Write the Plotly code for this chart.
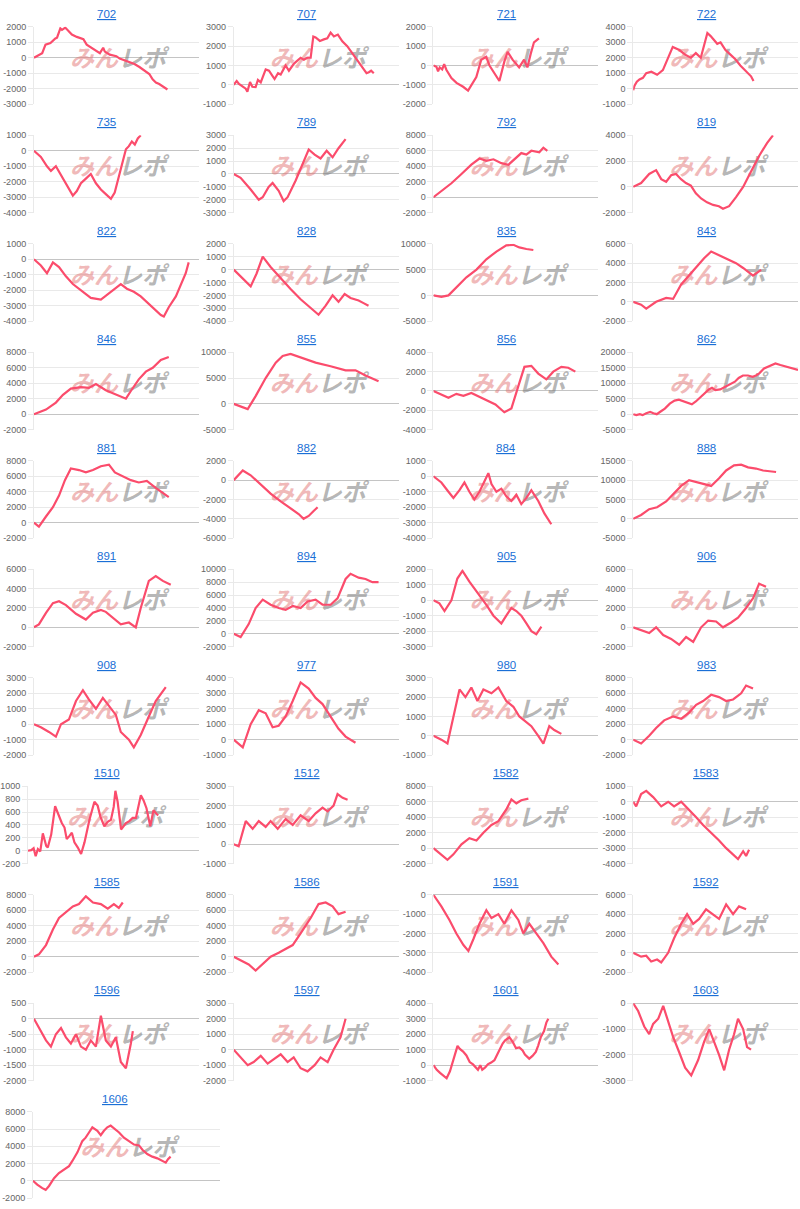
import plotly.graph_objects as go

titles = ["702", "707", "721", "722", "735", "789", "792", "819", "822", "828",
          "835", "843", "846", "855", "856", "862", "881", "882", "884", "888",
          "891", "894", "905", "906", "908", "977", "980", "983", "1510", "1512",
          "1582", "1583", "1585", "1586", "1591", "1592", "1596", "1597", "1601",
          "1603", "1606"]

# y axis tick range per chart: top tick, bottom tick, step
axis_top = [2000, 3000, 2000, 4000, 1000, 3000, 8000, 4000, 1000, 2000,
            10000, 6000, 8000, 10000, 4000, 20000, 8000, 2000, 1000, 15000,
            6000, 10000, 2000, 6000, 3000, 4000, 3000, 8000, 1000, 3000,
            8000, 1000, 8000, 8000, 0, 6000, 500, 3000, 4000, 0, 8000]
axis_bottom = [-3000, -1000, -2000, -1000, -4000, -3000, -2000, -2000, -4000, -4000,
               -5000, -2000, -2000, -5000, -4000, -5000, -2000, -6000, -4000, -5000,
               -2000, -2000, -3000, -2000, -2000, -1000, -1000, -2000, -200, -1000,
               -2000, -4000, -2000, -2000, -4000, -2000, -2000, -2000, -1000, -3000, -2000]
axis_step = [1000, 1000, 1000, 1000, 1000, 1000, 2000, 2000, 1000, 1000,
             5000, 2000, 2000, 5000, 2000, 5000, 2000, 2000, 1000, 5000,
             2000, 2000, 1000, 2000, 1000, 1000, 1000, 2000, 200, 1000,
             2000, 1000, 2000, 2000, 1000, 2000, 500, 1000, 1000, 1000, 2000]

# each series: (progress %, coin difference)
s702 = [(0, 0), (5, 300), (7, 850), (10, 950), (13, 1250), (14, 1300), (16, 1900), (17, 1800),
        (19, 1950), (21, 1700), (23, 1500), (26, 1350), (30, 1200), (32, 850), (34, 700), (36, 600),
        (38, 400), (40, 300), (42, 650), (43, 400), (46, 200), (50, 100), (52, -50), (56, -200),
        (59, -300), (61, -400), (64, -600), (67, -800), (70, -1050), (72, -1400), (74, -1600),
        (76, -1700), (78, -1850), (81, -2050)]
s707 = [(0, 0), (1.8, 200), (3.2, 50), (5.3, -100), (7.3, -200), (8.3, -350), (9.9, 150), (11.3, -100),
        (13.3, -120), (14.7, 250), (16.4, 130), (19.4, 800), (21.4, 730), (23.4, 480), (24.8, 300),
        (26.9, 600), (28.5, 530), (31.5, 1000), (33.5, 730), (36.6, 1100), (38.6, 1250), (40.6, 1400),
        (42.6, 1300), (44.6, 1400), (46.7, 1400), (48.3, 2500), (49.7, 2450), (52.3, 2270),
        (54.7, 2350), (56.8, 2400), (58.8, 2700), (60.8, 2500), (63.2, 2600), (65.9, 2250),
        (68.9, 2000), (71.9, 1650), (74.9, 1250), (78, 900), (80.6, 600), (82, 650), (83.4, 730), (85, 600)]
s721 = [(0, 0), (1.8, -70), (2.8, -300), (3.8, -100), (5.3, -200), (6.5, 70), (7.9, -230), (9.3, -400),
        (10.9, -650), (14, -900), (18, -1100), (21, -1300), (23, -1000), (26, -600), (29, 300),
        (32, 450), (34, 0), (37, -400), (40, -800), (43, 200), (45, 700), (48, 300), (52, -100),
        (55, 300), (57, -100), (59, 600), (61, 1200), (64, 1400)]
s722 = [(0, -100), (0.8, 200), (2.2, 450), (3.8, 600), (5.9, 700), (7.9, 1000), (11, 1100), (14.5, 900),
        (18, 1200), (24, 2700), (28, 2500), (31.5, 2200), (35, 2000), (38, 2300), (41, 2000),
        (45, 3600), (47, 3400), (51, 2900), (53, 3000), (56, 2500), (59, 2200), (62, 1900),
        (65, 1500), (68, 1200), (71.5, 800), (73, 500)]
s735 = [(0, 0), (4.2, -400), (7.9, -1000), (10.3, -1300), (13.3, -1000), (16.4, -1600), (20, -2300),
        (23.6, -2900), (26, -2600), (28.5, -2100), (31.5, -1800), (34.5, -1500), (37.6, -2100),
        (40.6, -2500), (43.6, -2800), (46.7, -3100), (49, -2700), (51.5, -1600), (54, -500),
        (55.8, 100), (57.6, 300), (59.4, 600), (61.2, 400), (63, 800), (64.8, 1000)]
s789 = [(0, 0), (4.2, -300), (10.3, -1200), (15.2, -2000), (17.6, -1800), (21.2, -1000),
        (23.6, -700), (27.3, -1300), (30.3, -2100), (32.7, -1800), (37.6, -500), (41.8, 700),
        (45.5, 1900), (49.1, 1500), (52.7, 1200), (56.4, 1800), (60, 1300), (63.6, 2000),
        (67.9, 2700)]
s792 = [(0, 0), (4.8, 800), (10.9, 1800), (17, 3000), (23, 4200), (27.9, 5000), (32.1, 4700),
        (36.4, 4900), (41.2, 4400), (45.5, 4200), (48.5, 4800), (53.3, 5700), (56.4, 5500),
        (59.4, 6000), (64.2, 5800), (66.7, 6400), (69.1, 6000)]
s819 = [(0, 0), (4.8, 300), (9.7, 1000), (13.9, 1300), (17, 600), (20, 400), (23, 900), (26, 1000),
        (29, 600), (32, 300), (35, 100), (38, -500), (41.2, -900), (44.8, -1200), (48.5, -1400),
        (52, -1500), (54.5, -1700), (58.2, -1500), (62.4, -800), (66.7, 0), (71.5, 1200),
        (76.4, 2400), (81.2, 3400), (84.8, 4000)]
s822 = [(0, 0), (4.2, -400), (7.9, -900), (11.5, -200), (15.2, -500), (19.4, -1100), (23.6, -1600),
        (28.5, -2000), (34.5, -2500), (40.6, -2600), (45.5, -2200), (49.7, -1800), (52.7, -1600),
        (56.4, -1900), (60.6, -2100), (64.8, -2400), (69.7, -2900), (73.9, -3300), (77, -3600),
        (78.8, -3700), (81.8, -3100), (86.1, -2400), (89.1, -1700), (92.1, -900), (93.9, -200)]
s828 = [(0, 0), (4.2, -500), (10.3, -1300), (13.9, -300), (17.6, 1000), (22.4, 200), (28.5, -700),
        (34.5, -1500), (40.6, -2300), (46.7, -3000), (51.5, -3500), (55.8, -2800), (60, -2000),
        (63.6, -2500), (67.3, -1900), (70.9, -2200), (75.8, -2400), (78.8, -2600), (81.8, -2800)]
s835 = [(0, 0), (4.8, -300), (9.1, 0), (13.9, 1500), (20, 3500), (26.1, 5000), (32.1, 7000),
        (38.2, 8500), (44.2, 9700), (48.5, 9800), (52.1, 9300), (56.4, 9000), (60.6, 8800)]
s843 = [(0, 0), (4.8, -300), (7.9, -700), (13.9, 0), (20, 400), (24.2, 300), (29.1, 1800), (35.2, 3000),
        (39.4, 3800), (43, 4500), (47.3, 5200), (52.1, 4800), (56.4, 4500), (62.4, 4000),
        (66.7, 3500), (70.3, 3000), (72.7, 2700), (77.6, 3300)]
s846 = [(0, 0), (7.3, 600), (13.3, 1500), (17.6, 2500), (22.4, 3300), (28.5, 3500), (33.3, 3400),
        (37.6, 3900), (43.6, 3100), (49.7, 2500), (55.8, 2000), (58.8, 3000), (63.6, 4500),
        (67.9, 5500), (72.1, 6000), (77, 7000), (81.8, 7400)]
s855 = [(0, 0), (4.2, -500), (8.5, -1000), (13.3, 1500), (19.4, 5000), (25.5, 8000), (29.7, 9300),
        (34.5, 9700), (40.6, 9000), (49.7, 8000), (58.8, 7300), (67.9, 6500), (73.9, 6500),
        (80, 5500), (87.9, 4400)]
s856 = [(0, 0), (4.8, -400), (9.1, -700), (13.9, -300), (18.2, -500), (23, -200), (27.9, -600),
        (32.7, -1000), (37.6, -1400), (43, -2200), (47.3, -1800), (51.5, 500), (55.2, 2500),
        (59.4, 2600), (63.6, 1800), (68.5, 1200), (72.7, 2000), (77.6, 2500), (81.8, 2400), (86.1, 2000)]
s862 = [(0, 0), (1.9, -300), (4, 0), (5.7, -300), (7.9, 300), (10.3, 700), (12.3, 300), (14.3, 0),
        (16.2, 700), (19.2, 1800), (22.2, 3400), (25.1, 4400), (27.7, 4700), (30, 4200), (33, 3600),
        (35.6, 3200), (38, 4100), (40.9, 5500), (43.9, 6800), (45.9, 8000), (47.8, 8500),
        (49.8, 7800), (52.8, 8000), (55.7, 8900), (58.7, 9600), (61.7, 10500), (64, 11700),
        (66.6, 12500), (69.6, 12500), (72.5, 12100), (74.5, 12500), (76.5, 13200), (79.4, 14800),
        (82.4, 15600), (86.3, 16400), (89.3, 15900), (93.2, 15400), (97.2, 14800), (100, 14300)]
s881 = [(0, 0), (3, -500), (7.3, 800), (11.5, 2000), (15.2, 3500), (18.8, 5500), (22.4, 7000),
        (27.3, 6800), (31.5, 6500), (35.8, 6800), (40.6, 7300), (45.5, 7500), (49.1, 6500),
        (53.9, 6000), (58.8, 5500), (63.6, 5200), (68.5, 5400), (73.9, 4500), (78.2, 3800), (81.8, 3300)]
s882 = [(0, 0), (3, 500), (5.5, 1000), (10.3, 500), (16.4, -500), (22.4, -1400), (28.5, -2200),
        (34.5, -2900), (39.4, -3500), (42.4, -4000), (45.5, -3700), (48.5, -3200), (50.9, -2800)]
s884 = [(0, 0), (4.8, -400), (9.1, -1000), (12.1, -1400), (15.8, -900), (18.8, -400), (21.8, -1000),
        (24.8, -1500), (27.9, -1000), (30.9, -300), (33.3, 200), (35.2, -500), (38.2, -1000),
        (41.2, -800), (44.2, -1300), (47.3, -1600), (50.3, -1200), (53.3, -1800), (56.4, -1400),
        (59.4, -900), (63.6, -1600), (67.3, -2400), (71.5, -3100)]
s888 = [(0, 0), (4.8, 1000), (9.7, 2500), (14.5, 3000), (20, 4500), (24.8, 6500), (29.1, 8500),
        (33.9, 10000), (38.2, 9500), (43, 9000), (47.3, 8500), (52.1, 10500), (56.4, 12500),
        (61.2, 13800), (65.5, 14000), (69.7, 13300), (74.5, 13000), (78.8, 12500), (82.4, 12300),
        (86.7, 12100)]
s891 = [(0, 0), (3, 300), (7.3, 1500), (11.5, 2500), (15.2, 2700), (19.4, 2300), (25.5, 1400),
        (31.5, 800), (35.8, 1500), (40.6, 1800), (43.6, 1600), (47.9, 1000), (52.7, 300), (57.6, 500),
        (61.8, 0), (64.8, 2000), (69.7, 4800), (73.9, 5300), (78.2, 4800), (83, 4400)]
s894 = [(0, 0), (4.2, -500), (9.1, 1500), (13.3, 4000), (17.6, 5300), (22.4, 4500), (27.3, 4000),
        (31.5, 3700), (35.8, 4300), (40.6, 4000), (44.8, 5000), (49.7, 5300), (53.9, 4500),
        (58.8, 4500), (63, 5500), (67.9, 8500), (70.9, 9300), (75.8, 8700), (80, 8500), (84.2, 8000),
        (87.9, 8000)]
s905 = [(0, 0), (3.6, -200), (6.7, -700), (10.9, 0), (14.5, 1400), (17.6, 1900), (21.8, 1200),
        (26.7, 500), (32.1, -300), (36.4, -1000), (41.2, -1500), (44.2, -1000), (47.3, -500),
        (50.3, -700), (53.3, -1000), (56.4, -1500), (59.4, -2000), (62.4, -2200), (65.5, -1700)]
s906 = [(0, 0), (4.8, -300), (9.7, -600), (13.9, 0), (18.2, -800), (23, -1200), (27.9, -1800),
        (32.1, -1000), (36.4, -1500), (41.2, 0), (45.5, 700), (50.3, 600), (54.5, 0), (59.4, 500),
        (63.6, 1000), (68.5, 2000), (72.7, 3000), (76.4, 4500), (80.6, 4200)]
s908 = [(0, 0), (4.2, -200), (9.1, -500), (13.3, -800), (16.4, 0), (21.2, 300), (25.5, 1500),
        (29.7, 2200), (33.3, 1600), (37.6, 1000), (41.8, 1700), (45.5, 1200), (49.7, 600),
        (52.7, -500), (57.6, -1000), (60.6, -1500), (64.8, -700), (69.7, 500), (73.9, 1500), (80, 2400)]
s977 = [(0, 0), (3, -300), (5.5, -500), (10.3, 1000), (15.2, 1900), (19.4, 1700), (23.6, 800),
        (27.3, 900), (31.5, 1500), (35.8, 2500), (40.6, 3700), (45.5, 3300), (49.7, 2700),
        (53.9, 2300), (58.8, 1500), (63.6, 700), (67.9, 200), (73.9, -200)]
s980 = [(0, 0), (4.8, -200), (8.5, -400), (12.1, 1000), (15.8, 2400), (19.4, 2000), (23, 2500),
        (26.7, 1800), (30.3, 2400), (35.2, 2200), (39.4, 2500), (44.2, 1800), (48.5, 1500),
        (52.1, 1000), (56.4, 700), (59.4, 500), (63.6, 0), (66.7, -400), (70.3, 500), (73.3, 300),
        (77.6, 100)]
s983 = [(0, 0), (4.8, -500), (9.7, 500), (13.9, 1500), (18.8, 2500), (24.2, 3000), (29.1, 2700),
        (33.9, 3500), (38.2, 4500), (42.4, 5000), (47.3, 5800), (52.1, 5500), (56.4, 5000),
        (60.6, 5200), (65.5, 6000), (68.5, 7000), (72.7, 6600)]
s1510 = [(0, 0), (1.9, 10), (3.3, 40), (4.5, -85), (5.8, 25), (7.2, -10), (8.7, 270), (10.7, 75),
         (11.6, 50), (13.6, 250), (15.9, 690), (17.9, 560), (19.8, 430), (21.4, 360), (22.7, 180),
         (24.3, 230), (25.7, 280), (27.2, 130), (29.2, 50), (31.1, -50), (33.1, 130), (36, 480),
         (38.9, 760), (40.8, 700), (42.4, 530), (44.7, 380), (46.7, 450), (48.6, 480), (50.2, 680),
         (51.2, 930), (52.5, 760), (54.5, 330), (57.4, 430), (59.3, 460), (61.3, 510), (63.2, 510),
         (64.6, 660), (66.1, 860), (67.7, 780), (69.4, 660), (71.6, 380), (73.5, 630), (75.3, 570),
         (76.3, 550)]
s1512 = [(0, 0), (3, -100), (7.3, 1200), (11.5, 800), (15.2, 1200), (19.4, 900), (22.4, 1200),
         (26.7, 800), (31.5, 1300), (35.8, 1000), (40.6, 1500), (45.5, 1200), (49.7, 1600),
         (53.9, 1900), (57, 1700), (60.6, 2000), (63, 2600), (66.1, 2400), (69.1, 2300)]
s1582 = [(0, 0), (4.8, -800), (8.5, -1500), (12.1, -800), (17, 500), (21.8, 1300), (26.1, 1000),
         (30.3, 2000), (35.2, 3000), (39.4, 3500), (44.2, 5000), (47.3, 6300), (50.3, 5800),
         (53.3, 6200), (57.6, 6400)]
s1583 = [(0, 0), (1.8, -300), (4.8, 500), (7.9, 700), (12.1, 300), (17, -300), (21.2, 0), (24.8, -300),
         (29.1, 0), (33.9, -500), (38.2, -1000), (42.4, -1500), (47.3, -2000), (52.1, -2500),
         (56.4, -3000), (60.6, -3400), (63.6, -3700), (66.7, -3200), (68.5, -3500), (70.3, -3100)]
s1585 = [(0, 0), (3, 300), (7.3, 1500), (11.5, 3500), (15.2, 5000), (19.4, 5800), (23.6, 6500),
         (27.3, 6800), (31.5, 7800), (35.8, 7000), (40.6, 6800), (44.8, 6200), (48.5, 6800),
         (51.5, 6300), (53.9, 7000)]
s1586 = [(0, 0), (4.2, -500), (9.1, -1000), (13.3, -1800), (17.6, -1000), (22.4, 0), (27.3, 500),
         (31.5, 1000), (35.8, 1500), (40.6, 3000), (46.7, 5000), (51.5, 6800), (55.8, 7000),
         (60, 6500), (63.6, 5500), (67.9, 5800)]
s1591 = [(0, 0), (4.8, -600), (9.7, -1300), (13.9, -2000), (18.2, -2600), (21.2, -2900), (24.2, -2300),
         (27.9, -1500), (32.1, -800), (35.2, -1200), (39.4, -1000), (43, -1500), (47.3, -800),
         (51.5, -1300), (54.5, -2000), (58.2, -1500), (62.4, -2000), (66.7, -2500), (71.5, -3200),
         (75.8, -3600)]
s1592 = [(0, 0), (4.8, -400), (7.9, -300), (10.9, -900), (14.5, -700), (17, -1000), (21.2, 0),
         (24.8, 1500), (29.1, 3000), (32.7, 4000), (36.4, 3000), (40, 3500), (44.2, 4500),
         (48.5, 4000), (52.1, 3500), (56.4, 5000), (60.6, 4000), (64.2, 4800), (68.5, 4500)]
s1596 = [(0, 0), (3, -300), (7.3, -700), (10.3, -900), (13.3, -500), (16.4, -300), (19.4, -600),
         (22.4, -800), (25.5, -500), (28.5, -900), (31.5, -1000), (34.5, -700), (37.6, -900),
         (40.6, 100), (43.6, -700), (46.7, -900), (49.7, -600), (52.7, -1400), (55.8, -1600),
         (58.8, -800), (60, -400)]
s1597 = [(0, 0), (4.2, -500), (8.5, -1000), (12.1, -800), (16.4, -400), (20.6, -900), (24.2, -600),
         (28.5, -300), (32.7, -800), (36.4, -500), (40.6, -1200), (44.8, -1400), (49.1, -1000),
         (52.7, -500), (57, -800), (60.6, 0), (64.8, 800), (67.9, 2000)]
s1601 = [(0, 0), (2, -300), (4, -500), (6, -650), (8, -850), (10, -400), (12, 400), (14.6, 1250),
         (16, 1050), (18, 880), (20, 630), (22, 200), (24, 50), (25.4, -100), (27, -300), (28.4, 0),
         (29.6, -300), (31.4, -150), (33, 50), (35, 170), (37, 320), (39, 750), (40.7, 1150),
         (42, 1400), (43.5, 1600), (44.7, 1700), (46.1, 1800), (48.1, 1500), (50.1, 1100),
         (52.1, 1150), (54.1, 950), (55.5, 680), (58.1, 420), (60.1, 600), (62.1, 850), (63.5, 1250),
         (65.1, 1800), (67.1, 2200), (68.5, 2750), (69.7, 3000)]
s1603 = [(0, 0), (3, -300), (6.7, -900), (9.7, -1200), (12.1, -800), (15.2, -600), (18.2, -100),
         (21.2, -700), (24.2, -1300), (27.9, -1900), (31.5, -2500), (35.2, -2800), (39.4, -2200),
         (43, -1500), (46.1, -1000), (49.1, -1500), (52.1, -2000), (55.2, -2600), (58.2, -1800),
         (61.2, -1200), (63.6, -600), (66.7, -1000), (69.1, -1700), (71.5, -1800)]
s1606 = [(0, 0), (2.3, -450), (5, -850), (6.8, -1050), (8.6, -600), (11.3, 300), (13.9, 900),
         (16.6, 1350), (19.3, 1700), (21.1, 2300), (23.8, 3300), (26.4, 4600), (28.2, 5000),
         (30, 5600), (31.8, 6200), (34.5, 5800), (36.3, 5300), (38, 5800), (39.8, 6200), (41.6, 6400),
         (43.4, 6100), (46.1, 5600), (48.7, 5000), (51.4, 4600), (54.1, 4200), (56.8, 4100),
         (58.6, 3600), (61.2, 3100), (63.9, 2800), (66.6, 2600), (69.3, 2300), (71.1, 2100),
         (72.3, 2500), (73.7, 2800)]

series = [s702, s707, s721, s722, s735, s789, s792, s819, s822, s828,
          s835, s843, s846, s855, s856, s862, s881, s882, s884, s888,
          s891, s894, s905, s906, s908, s977, s980, s983, s1510, s1512,
          s1582, s1583, s1585, s1586, s1591, s1592, s1596, s1597, s1601,
          s1603, s1606]

W, H = 800, 1209
LINE = "#fb4c6c"
TITLE_C = "#1a6fd6"
GRID = "#e9e9e9"
ZERO = "#c4c4c4"
TICKF = dict(family="Liberation Sans, Arial, sans-serif", size=9, color="#666666")
WM_FONT = "Noto Sans CJK JP"

fig = go.Figure()
layout = dict(width=W, height=H, margin=dict(l=0, r=0, t=0, b=0),
              paper_bgcolor="white", plot_bgcolor="white", showlegend=False,
              hovermode=False, annotations=[])

for i, (title, pts) in enumerate(zip(titles, series)):
    n = i + 1
    r, c = divmod(i, 4)
    top_v, bot_v, step = axis_top[i], axis_bottom[i], axis_step[i]
    tickvals = list(range(top_v, bot_v - 1, -step))
    ticktext = [str(v) for v in tickvals]
    maxlen = max(len(s) for s in ticktext)
    if r < 10:
        py0 = 22 + r * 109.4
        py1 = py0 + 78
        px0 = c * 200 + (33 if maxlen >= 5 else 27)
        px1 = c * 200 + 198
        tx = c * 200 + 106
    else:
        py0, py1 = 1116, 1203
        px0, px1 = 32, 219
        tx = 114
    xs = "x" if n == 1 else f"x{n}"
    ys = "y" if n == 1 else f"y{n}"
    xk = "xaxis" if n == 1 else f"xaxis{n}"
    yk = "yaxis" if n == 1 else f"yaxis{n}"
    layout[xk] = dict(domain=[px0 / W, px1 / W], range=[0, 100], anchor=ys,
                      showgrid=False, zeroline=False, showticklabels=False,
                      ticks="", showline=False, fixedrange=True)
    layout[yk] = dict(domain=[1 - py1 / H, 1 - py0 / H], range=[bot_v, top_v], anchor=xs,
                      tickvals=tickvals, ticktext=ticktext, tickfont=TICKF,
                      showgrid=True, gridcolor=GRID, gridwidth=1,
                      zeroline=True, zerolinecolor=ZERO, zerolinewidth=1,
                      showline=True, linecolor=GRID, linewidth=1,
                      ticks="outside", ticklen=5, tickcolor=GRID, fixedrange=True)

    # watermark (drawn before the line so the line sits on top)
    ymid = bot_v + 0.56 * (top_v - bot_v)
    fig.add_trace(go.Scatter(x=[51], y=[ymid], mode="text", text=["みん"],
                             textposition="middle left", xaxis=xs, yaxis=ys,
                             textfont=dict(family=WM_FONT, size=24, weight="bold",
                                           style="italic", color="rgba(226,115,115,0.5)"),
                             hoverinfo="skip", cliponaxis=False))
    fig.add_trace(go.Scatter(x=[51], y=[ymid], mode="text", text=["レポ"],
                             textposition="middle right", xaxis=xs, yaxis=ys,
                             textfont=dict(family=WM_FONT, size=24, weight="bold",
                                           style="italic", color="rgba(120,120,120,0.55)"),
                             hoverinfo="skip", cliponaxis=False))
    fig.add_trace(go.Scatter(x=[p[0] for p in pts], y=[p[1] for p in pts], mode="lines",
                             line=dict(color=LINE, width=2.2), xaxis=xs, yaxis=ys,
                             hoverinfo="skip"))
    layout["annotations"].append(dict(
        text=f"<u>{title}</u>", x=tx / W, y=1 - (py0 - 13) / H, xref="paper", yref="paper",
        xanchor="center", yanchor="middle", showarrow=False,
        font=dict(family="Liberation Sans, Arial, sans-serif", size=11.5, color=TITLE_C)))

fig.update_layout(**layout)
fig.write_html("out.html")
